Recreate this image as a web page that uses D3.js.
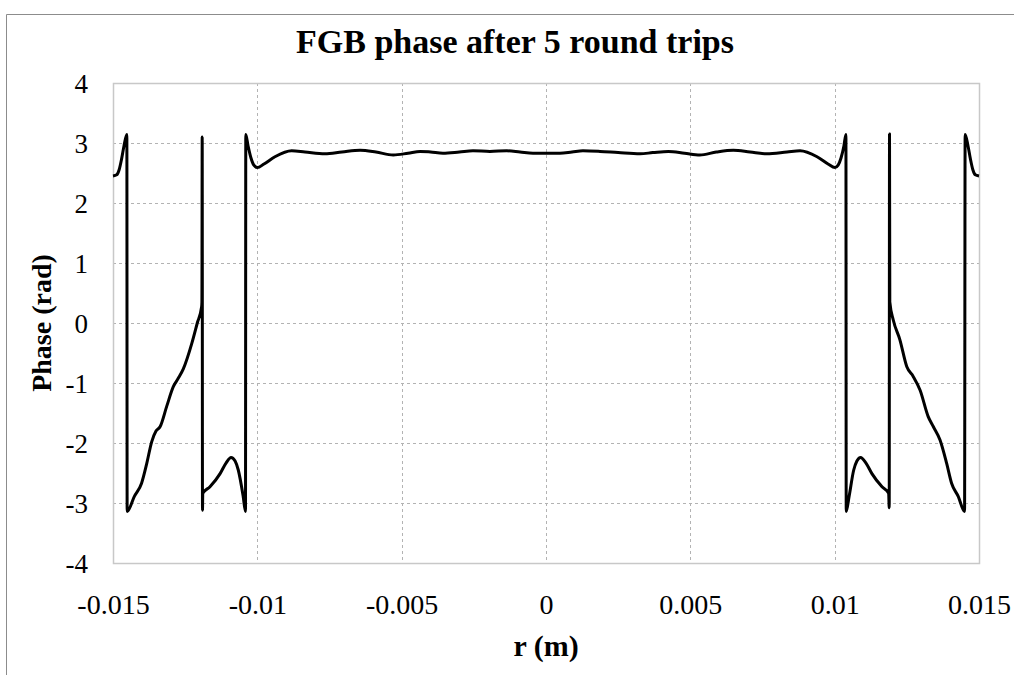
<!DOCTYPE html>
<html><head><meta charset="utf-8">
<script src="https://cdn.jsdelivr.net/npm/d3@7"></script>
<style>body{margin:0;background:#fff} svg{display:block}</style>
</head><body>
<svg id="chart" width="1014" height="675"></svg>
<script>
// r (m) values along the curve
const rValues = [
 -0.01500,-0.01487,-0.01479,-0.01470,-0.01462,-0.01452,-0.01451,
 -0.01426,-0.01401,-0.01383,-0.01366,-0.01351,-0.01337,-0.01314,-0.01291,-0.01275,-0.01256,-0.01227,-0.01208,-0.01193,-0.01192,
 -0.01191,-0.01190,-0.01189,
 -0.01164,-0.01129,-0.01108,-0.01091,-0.01077,-0.01066,-0.01049,-0.01041,-0.01040,
 -0.01032,-0.01022,-0.01012,-0.01000,-0.00977,-0.00939,-0.00881,-0.00835,-0.00766,-0.00707,-0.00644,-0.00589,-0.00529,-0.00478,-0.00436,-0.00400,-0.00357,-0.00300,-0.00253,-0.00194,-0.00136,-0.00090,-0.00045,
 0.00000,0.00048,0.00090,0.00128,0.00187,0.00250,0.00326,0.00370,0.00424,0.00480,0.00533,0.00590,0.00649,0.00707,0.00765,0.00835,0.00880,0.00939,0.00977,0.01001,0.01012,0.01022,0.01032,0.01039,
 0.01040,0.01050,0.01066,0.01077,0.01090,0.01108,0.01129,0.01164,0.01187,
 0.01189,0.01190,0.01191,
 0.01203,0.01226,0.01250,0.01272,0.01296,0.01324,0.01342,0.01365,0.01388,0.01405,0.01428,0.01450,
 0.01452,0.01462,0.01470,0.01479,0.01487,0.01500
];
// phase (rad) values
const phaseValues = [
 2.45,2.47,2.55,2.74,2.95,3.14,-3.14,
 -2.89,-2.67,-2.34,-1.98,-1.80,-1.73,-1.39,-1.06,-0.93,-0.76,-0.34,0.00,0.27,0.35,
 3.10,-3.12,-2.84,
 -2.73,-2.51,-2.33,-2.24,-2.30,-2.45,-2.89,-3.14,3.14,
 2.95,2.75,2.63,2.59,2.65,2.77,2.87,2.85,2.82,2.85,2.88,2.85,2.80,2.83,2.86,2.85,2.83,2.85,2.87,2.86,2.87,2.85,2.83,
 2.83,2.83,2.85,2.87,2.86,2.84,2.82,2.84,2.86,2.83,2.80,2.85,2.88,2.85,2.82,2.85,2.87,2.77,2.65,2.59,2.63,2.75,2.95,3.14,
 -3.14,-2.89,-2.45,-2.30,-2.24,-2.33,-2.51,-2.73,-2.84,
 -3.08,3.15,0.35,
 0.05,-0.28,-0.73,-0.89,-1.12,-1.56,-1.73,-1.95,-2.34,-2.67,-2.89,-3.14,
 3.14,2.95,2.74,2.55,2.47,2.45
];
const xTicks = [-0.015,-0.01,-0.005,0,0.005,0.01,0.015];
const xTickLabels = ["-0.015","-0.01","-0.005","0","0.005","0.01","0.015"];
const yTicks = [-4,-3,-2,-1,0,1,2,3,4];
const yTickLabels = ["-4","-3","-2","-1","0","1","2","3","4"];
const titleText = "FGB phase after 5 round trips";
const xTitle = "r (m)";
const yTitle = "Phase (rad)";

const svg = d3.select("#chart");
const L = 113, R = 979, T = 83, B = 563;
const x = d3.scaleLinear().domain([-0.015,0.015]).range([L,R]);
const y = d3.scaleLinear().domain([-4,4]).range([B,T]);
const serif = "'Liberation Serif','Times New Roman',serif";

// outer frame
svg.append("path").attr("d",`M6.5,675 V14.5 H1014`).attr("fill","none").attr("stroke","#8c8c8c").attr("stroke-width",1);

// gridlines
svg.append("g").selectAll("line").data(yTicks.filter(d=>d>-4&&d<4)).join("line")
  .attr("x1",L).attr("x2",R).attr("y1",d=>Math.round(y(d))+0.5).attr("y2",d=>Math.round(y(d))+0.5)
  .attr("stroke","#b3b3b3").attr("stroke-dasharray","3,3").attr("stroke-width",1);
svg.append("g").selectAll("line").data(xTicks.filter(d=>d>-0.015&&d<0.015)).join("line")
  .attr("y1",T).attr("y2",B).attr("x1",d=>Math.round(x(d))+0.5).attr("x2",d=>Math.round(x(d))+0.5)
  .attr("stroke","#b3b3b3").attr("stroke-dasharray","3,3").attr("stroke-width",1);

// plot border
svg.append("rect").attr("x",L+0.5).attr("y",T+0.5).attr("width",R-L).attr("height",B-T)
  .attr("fill","none").attr("stroke","#c8c8c8").attr("stroke-width",1.5);

// axes tick labels via d3 axes
const xAxis = d3.axisBottom(x).tickValues(xTicks).tickFormat((d,i)=>xTickLabels[i]).tickSize(0).tickPadding(0);
const gx = svg.append("g").attr("transform",`translate(0,${B})`).call(xAxis);
gx.select(".domain").remove();
gx.selectAll("text").attr("font-family",serif).attr("font-size",28).attr("fill","#000").attr("dy",null).attr("y",51);

const yAxis = d3.axisLeft(y).tickValues(yTicks).tickFormat((d,i)=>yTickLabels[i]).tickSize(0).tickPadding(0);
const gy = svg.append("g").attr("transform",`translate(88,0)`).call(yAxis);
gy.select(".domain").remove();
gy.selectAll("text").attr("font-family",serif).attr("font-size",27).attr("fill","#000").attr("x",0).attr("dy","0.34em");

// data line
const pts = rValues.map((r,i)=>[r,phaseValues[i]]);
const line = d3.line().x(d=>x(d[0])).y(d=>y(d[1])).curve(d3.curveMonotoneX);
svg.append("path").datum(pts).attr("d",line).attr("fill","none").attr("stroke","#000")
  .attr("stroke-width",3).attr("stroke-linejoin","round").attr("stroke-linecap","butt");

// titles
svg.append("text").attr("x",515).attr("y",53).attr("text-anchor","middle")
  .attr("font-family",serif).attr("font-weight","bold").attr("font-size",34).text(titleText);
svg.append("text").attr("x",546).attr("y",656).attr("text-anchor","middle")
  .attr("font-family",serif).attr("font-weight","bold").attr("font-size",30).text(xTitle);
svg.append("text").attr("transform","translate(51,323) rotate(-90)").attr("text-anchor","middle")
  .attr("font-family",serif).attr("font-weight","bold").attr("font-size",28).text(yTitle);
</script>
</body></html>
